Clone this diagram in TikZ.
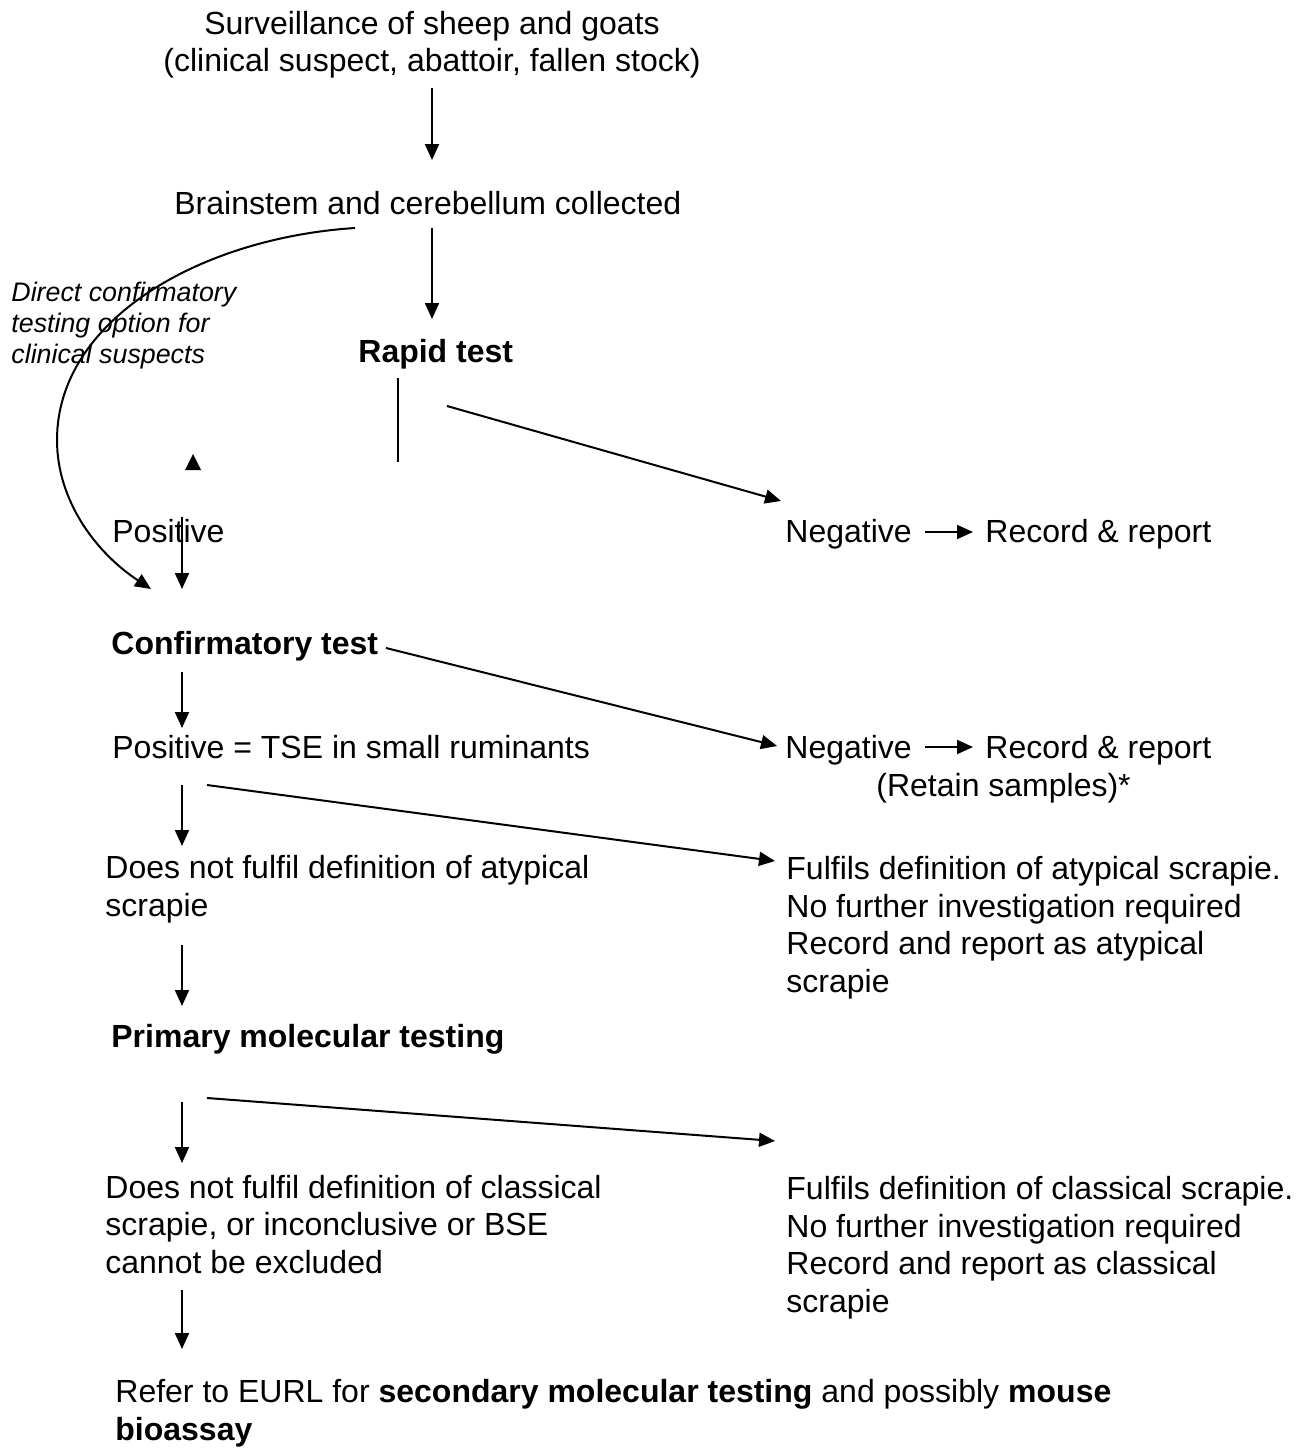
\documentclass[tikz,border=0pt]{standalone}
\usepackage{fontspec}
\setmainfont{Liberation Sans}
\usetikzlibrary{arrows.meta}
\begin{document}
\begin{tikzpicture}[x=0.5pt,y=-0.5pt,
  txt/.style={anchor=base west,inner sep=0pt,align=left,font=\fontsize{16}{18.75}\selectfont},
  btxt/.style={txt,font=\fontsize{16}{18.75}\selectfont\bfseries},
  itxt/.style={txt,font=\fontsize{13.4}{15.4}\selectfont\itshape},
  conn/.style={line width=1pt,-{Triangle[length=8pt,width=7pt]}},
  plain/.style={line width=1pt}]
\useasboundingbox (0,0) rectangle (1302,1450);
% texts (multi-line nodes are placed by the baseline of their last line)
\node[txt,anchor=base,align=center] (surv) at (432,72) {Surveillance of sheep and goats\\(clinical suspect, abattoir, fallen stock)};
\node[txt] (brain) at (174,214) {Brainstem and cerebellum collected};
\node[itxt] (note) at (11,363) {Direct confirmatory\\testing option for\\clinical suspects};
\node[btxt] (rapid) at (358,362) {Rapid test};
\node[txt] (pos1) at (112,542) {Positive};
\node[txt] (neg1) at (785,542) {Negative};
\node[txt] (rec1) at (985,542) {Record \& report};
\node[btxt] (conf) at (111,654) {Confirmatory test};
\node[txt] (pos2) at (112,758) {Positive = TSE in small ruminants};
\node[txt] (neg2) at (785,758) {Negative};
\node[txt] (rec2) at (985,758) {Record \& report};
\node[txt] (retain) at (876,796) {(Retain samples)*};
\node[txt] (notat) at (105,916) {Does not fulfil definition of atypical\\scrapie};
\node[txt] (fulat) at (786,992) {Fulfils definition of atypical scrapie.\\No further investigation required\\Record and report as atypical\\scrapie};
\node[btxt] (prim) at (111,1047) {Primary molecular testing};
\node[txt] (notcl) at (105,1273) {Does not fulfil definition of classical\\scrapie, or inconclusive or BSE\\cannot be excluded};
\node[txt] (fulcl) at (786,1312) {Fulfils definition of classical scrapie.\\No further investigation required\\Record and report as classical\\scrapie};
\node[txt] (refer) at (115,1440) {Refer to EURL for \textbf{secondary molecular testing} and possibly \textbf{mouse}\\\textbf{bioassay}};
% connector end points
\coordinate (a1s) at (432,88);   \coordinate (a1e) at (432,160);
\coordinate (a2s) at (432,228);  \coordinate (a2e) at (432,319);
\coordinate (cvs) at (355,228);  \coordinate (cvm) at (57,440); \coordinate (cve) at (151,589);
\coordinate (vls) at (398,378);  \coordinate (vle) at (398,462);
\coordinate (n1s) at (447,406);  \coordinate (n1e) at (781,501);
\coordinate (p1s) at (182,517);  \coordinate (p1e) at (182,589);
\coordinate (r1s) at (925,532);  \coordinate (r1e) at (973,532);
\coordinate (c1s) at (182,672);  \coordinate (c1e) at (182,728);
\coordinate (n2s) at (386,648);  \coordinate (n2e) at (777,746);
\coordinate (r2s) at (925,747);  \coordinate (r2e) at (973,747);
\coordinate (d1s) at (182,785);  \coordinate (d1e) at (182,846);
\coordinate (f1s) at (207,785);  \coordinate (f1e) at (775,861);
\coordinate (d2s) at (182,945);  \coordinate (d2e) at (182,1006);
\coordinate (d3s) at (182,1102); \coordinate (d3e) at (182,1163);
\coordinate (f2s) at (207,1098); \coordinate (f2e) at (775,1141);
\coordinate (d4s) at (182,1290); \coordinate (d4e) at (182,1349);
% connectors
\draw[conn] (a1s) -- (a1e);
\draw[conn] (a2s) -- (a2e);
\draw[conn] (cvs) .. controls (200,238) and (57,320) .. (cvm) .. controls (57,500) and (95,552) .. (cve);
\draw[plain] (vls) -- (vle);
\fill (193,454) -- (201,470) -- (185,470) -- cycle;
\draw[conn] (n1s) -- (n1e);
\draw[conn] (p1s) -- (p1e);
\draw[conn] (r1s) -- (r1e);
\draw[conn] (c1s) -- (c1e);
\draw[conn] (n2s) -- (n2e);
\draw[conn] (r2s) -- (r2e);
\draw[conn] (d1s) -- (d1e);
\draw[conn] (f1s) -- (f1e);
\draw[conn] (d2s) -- (d2e);
\draw[conn] (d3s) -- (d3e);
\draw[conn] (f2s) -- (f2e);
\draw[conn] (d4s) -- (d4e);
\end{tikzpicture}
\end{document}
